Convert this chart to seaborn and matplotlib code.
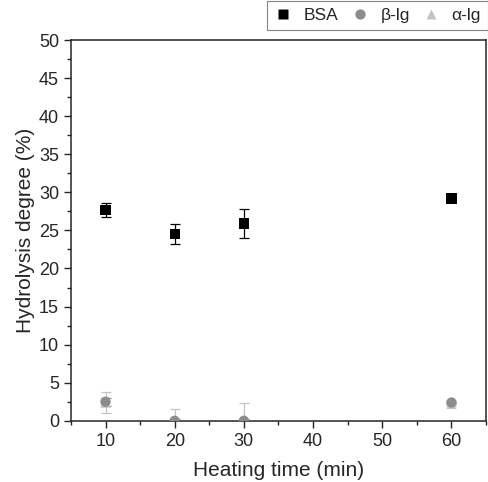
import numpy as np
import pandas as pd
import matplotlib as mpl
mpl.use('Agg')
import matplotlib.pyplot as plt
import seaborn as sns
from matplotlib.ticker import MultipleLocator

sns.set_style('ticks')
mpl.rcParams['font.family'] = ['Liberation Sans', 'DejaVu Sans']

# data
time = [10, 20, 30, 60]
proteins = ['BSA', 'β-lg', 'α-lg']
bsa = [27.7, 24.5, 25.9, 29.2]
bsa_err = [0.9, 1.3, 1.85, 0.3]
blg = [2.5, 0.0, 0.0, 2.4]
blg_err = [0.5, 0.3, 0.3, 0.2]
alg = [2.4, 0.0, 0.1, 2.2]
alg_err = [1.4, 1.6, 2.2, 0.2]

df = pd.DataFrame({
    'Heating time (min)': time * 3,
    'Hydrolysis degree (%)': bsa + blg + alg,
    'err': bsa_err + blg_err + alg_err,
    'Protein': np.repeat(proteins, len(time)),
})

colors = {'BSA': 'black', 'β-lg': '#8c8c8c', 'α-lg': '#c4c4c4'}
markers = {'BSA': 's', 'β-lg': 'o', 'α-lg': '^'}

fig = plt.figure(figsize=(4.89, 4.82), dpi=100)
ax = fig.add_axes([0.145, 0.127, 0.849, 0.79])

# error bars first, drawn from back to front
for prot in proteins[::-1]:
    d = df[df.Protein == prot]
    ax.errorbar(d['Heating time (min)'], d['Hydrolysis degree (%)'], yerr=d['err'],
                fmt='none', ecolor=colors[prot], elinewidth=0.9, capsize=3.5,
                capthick=0.9, zorder=2)

sns.scatterplot(data=df[::-1], x='Heating time (min)', y='Hydrolysis degree (%)',
                hue='Protein', style='Protein', palette=colors, markers=markers,
                hue_order=proteins, style_order=proteins,
                s=55, edgecolor='none', ax=ax, zorder=3)

ax.set_xlim(5, 65)
ax.set_ylim(0, 50)
ax.xaxis.set_major_locator(MultipleLocator(10))
ax.xaxis.set_minor_locator(MultipleLocator(5))
ax.yaxis.set_major_locator(MultipleLocator(5))
ax.yaxis.set_minor_locator(MultipleLocator(2.5))
ax.tick_params(which='major', length=5, width=1, labelsize=13, direction='out')
ax.tick_params(which='minor', length=3, width=1, direction='out')
for s in ax.spines.values():
    s.set_linewidth(1.1)
ax.set_xlabel('Heating time (min)', fontsize=15, labelpad=8)
ax.set_ylabel('Hydrolysis degree (%)', fontsize=15, labelpad=3)

leg = ax.legend(loc='lower right', bbox_to_anchor=(1.004, 1.026), ncol=3, frameon=True,
                fontsize=12.5, handlelength=1.0, handletextpad=0.7, columnspacing=0.7,
                borderpad=0.4, borderaxespad=0.0, fancybox=False, edgecolor='#666666')
leg.get_frame().set_linewidth(0.8)

fig.savefig('out.png', dpi=100)
